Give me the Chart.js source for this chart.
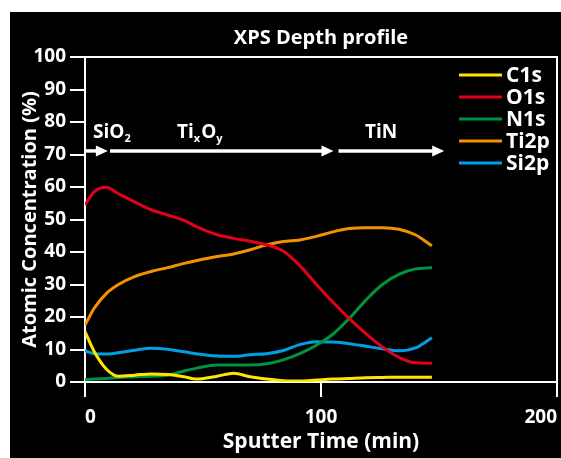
<!DOCTYPE html>
<html><head><meta charset="utf-8">
<script src="https://cdn.jsdelivr.net/npm/chart.js@4.4.0/dist/chart.umd.min.js"></script>
<style>
html,body{margin:0;padding:0;background:#fff;width:561px;height:458px;overflow:hidden}
#box{position:absolute;left:10px;top:12px;width:551px;height:446px;background:#000}
canvas{display:block}
</style></head><body>
<div id="box"><canvas id="c" width="551" height="446"></canvas></div>
<script>
// ---- data ----
const sputterTime = [0,4,9,14,21,28,35,42,47,56,63,70,77,84,91,98,105,112,119,126,133,140,147];
const c1s  = [15.5,9.2,4.0,1.8,2.1,2.5,2.3,1.6,0.9,1.8,2.7,1.6,0.9,0.4,0.3,0.6,0.9,1.1,1.3,1.4,1.5,1.5,1.5];
const o1s  = [54.5,58.6,59.9,58.0,55.4,53.0,51.4,49.7,47.9,45.3,44.2,43.3,42.2,40.3,35.8,30.1,24.6,19.5,14.9,10.8,7.6,5.9,5.8];
const n1s  = [0.7,0.9,1.1,1.4,1.6,1.8,2.1,3.4,4.2,5.2,5.2,5.2,5.6,6.8,8.7,11.3,14.7,19.6,25.2,30.0,33.1,34.8,35.2];
const ti2p = [17.5,22.8,27.2,29.9,32.4,34.0,35.2,36.5,37.3,38.6,39.4,40.7,42.2,43.2,43.7,44.8,46.2,47.2,47.5,47.5,47.0,45.3,41.9];
const si2p = [9.6,8.7,8.6,9.0,9.8,10.4,10.1,9.3,8.7,8.0,7.9,8.4,8.7,9.7,11.5,12.4,12.3,11.8,11.0,10.2,9.6,10.5,13.6];
const seriesNames = ['C1s','O1s','N1s','Ti2p','Si2p'];
const xTicks = [0,100,200];
const yTicks = [0,10,20,30,40,50,60,70,80,90,100];
// layer annotations: arrow spans (min) and labels with subscripts
const arrowSpans = [[0.4,9.7],[10.6,105.3],[107.4,152.2]];
const arrowLevel = 71.1;
const layerLabelX = [3.4,39,118.6];
const layerLabelLevel = 75.2;
const layerLabelParts = [[['SiO',0],['2',1]],[['Ti',0],['x',1],['O',0],['y',1]],[['TiN',0]]];

const FONT = '"Open Sans", "DejaVu Sans", sans-serif';
const colors = ['#ffe600','#e2001a','#00923f','#f39200','#009fe3'];
const values = [c1s,o1s,n1s,ti2p,si2p];

const framePlugin = {
  id:'frame',
  beforeDatasetsDraw(chart){
    const {ctx, chartArea:a} = chart;
    ctx.save(); ctx.strokeStyle='#fff'; ctx.lineWidth=2;
    ctx.strokeRect(a.left, a.top, a.right-a.left, a.bottom-a.top);
    ctx.restore();
  }
};
const layerPlugin = {
  id:'layers',
  afterDatasetsDraw(chart){
    const {ctx, scales:{x,y}} = chart;
    ctx.save(); ctx.strokeStyle='#fff'; ctx.fillStyle='#fff'; ctx.lineWidth=3.5;
    const yy = y.getPixelForValue(arrowLevel);
    arrowSpans.forEach(([a,b])=>{
      const x1=x.getPixelForValue(a), x2=x.getPixelForValue(b);
      ctx.beginPath(); ctx.moveTo(x1,yy); ctx.lineTo(x2-9,yy); ctx.stroke();
      ctx.beginPath(); ctx.moveTo(x2,yy); ctx.lineTo(x2-12,yy-5.5); ctx.lineTo(x2-12,yy+5.5); ctx.closePath(); ctx.fill();
    });
    ctx.textBaseline='alphabetic'; ctx.textAlign='left';
    const ly = y.getPixelForValue(layerLabelLevel);
    layerLabelParts.forEach((parts,i)=>{
      let px = x.getPixelForValue(layerLabelX[i]);
      parts.forEach(([t,sub])=>{
        ctx.font = sub ? 'bold 11px '+FONT : 'bold 19px '+FONT;
        ctx.fillText(t, px, ly + (sub?4:0));
        px += ctx.measureText(t).width + (sub?1:0);
      });
    });
    ctx.restore();
  }
};
const legendPlugin = {
  id:'cornerLegend',
  afterDraw(chart){
    const {ctx, chartArea:a} = chart;
    ctx.save(); ctx.font='bold 21px '+FONT; ctx.textBaseline='middle'; ctx.textAlign='left';
    chart.data.datasets.forEach((d,i)=>{
      const yy = a.top + 18 + i*22;
      ctx.strokeStyle=d.borderColor; ctx.lineWidth=3;
      ctx.beginPath(); ctx.moveTo(a.right-98,yy); ctx.lineTo(a.right-55,yy); ctx.stroke();
      ctx.fillStyle='#fff'; ctx.fillText(d.label, a.right-51, yy+1);
    });
    ctx.restore();
  }
};

new Chart(document.getElementById('c'), {
  type:'line',
  data:{
    datasets: seriesNames.map((n,i)=>({
      label:n,
      data: sputterTime.map((t,k)=>({x:t, y:values[i][k]})),
      borderColor: colors[i], backgroundColor: colors[i],
      borderWidth:3, pointRadius:0, cubicInterpolationMode:'monotone', fill:false
    }))
  },
  options:{
    responsive:false, animation:false, devicePixelRatio:1,
    layout:{padding:{left:0,right:4,top:0,bottom:0}},
    plugins:{
      legend:{display:false}, tooltip:{enabled:false},
      title:{display:true, text:'XPS Depth profile', color:'#fff', fullSize:false,
        font:{family:FONT, size:20, weight:'bold', lineHeight:1.2}, padding:{top:14,bottom:7}}
    },
    scales:{
      x:{type:'linear', min:0, max:200,
        afterBuildTicks:s=>{ s.ticks = xTicks.map(v=>({value:v})); },
        afterFit:s=>{ s.height=76; s.paddingLeft=0; s.paddingRight=0; },
        ticks:{color:'#fff', font:{family:FONT,size:19,weight:'bold'}, padding:9, maxRotation:0, align:'inner'},
        grid:{drawOnChartArea:false, drawTicks:true, tickLength:15, color:'#fff', lineWidth:2},
        border:{display:false},
        title:{display:true, text:'Sputter Time (min)', color:'#fff', font:{family:FONT,size:21,weight:'bold',lineHeight:1.2}, padding:{top:0,bottom:3.4}}
      },
      y:{min:0, max:100,
        afterBuildTicks:s=>{ s.ticks = yTicks.map(v=>({value:v})); },
        afterFit:s=>{ s.width=75; s.paddingTop=0; s.paddingBottom=0; },
        ticks:{color:'#fff', font:{family:FONT,size:19,weight:'bold'}, padding:4},
        grid:{drawOnChartArea:false, drawTicks:true, tickLength:15, color:'#fff', lineWidth:2},
        border:{display:false},
        title:{display:true, text:'Atomic Concentration (%)', color:'#fff', font:{family:FONT,size:20,weight:'bold',lineHeight:1.2}, padding:{top:8,bottom:0}}
      }
    }
  },
  plugins:[framePlugin, layerPlugin, legendPlugin]
});
</script>
</body></html>
